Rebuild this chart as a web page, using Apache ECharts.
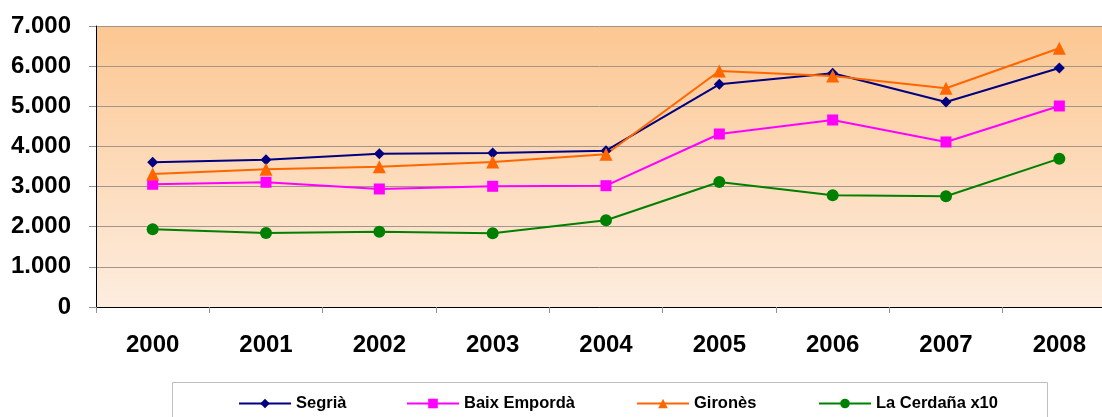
<!DOCTYPE html>
<html>
<head>
<meta charset="utf-8">
<script src="https://cdn.jsdelivr.net/npm/echarts@6/dist/echarts.min.js"></script>
<style>html,body{margin:0;padding:0;background:#fff;}#c{width:1102px;height:417px;}</style>
</head>
<body>
<div id="c"></div>
<script>
var categories = ['2000','2001','2002','2003','2004','2005','2006','2007','2008'];
var segria = [3605, 3670, 3819, 3837, 3894, 5548, 5822, 5107, 5954];
var baixEmporda = [3057, 3107, 2940, 3007, 3022, 4310, 4659, 4111, 5007];
var girones = [3313, 3430, 3496, 3612, 3804, 5879, 5755, 5448, 6445];
var laCerdana = [1936, 1844, 1876, 1836, 2160, 3114, 2783, 2758, 3695];
var seriesNames = ['Segrià', 'Baix Empordà', 'Gironès', 'La Cerdaña x10'];
var yMin = 0, yMax = 7000, yStep = 1000;

var FONT = '"Liberation Sans", Arial, sans-serif';
function fmt(v){
  var s = String(Math.round(v));
  return s.replace(/\B(?=(\d{3})+(?!\d))/g, '.');
}
var chart = echarts.init(document.getElementById('c'), null, {renderer:'canvas'});
function mkSeries(name, data, color, symbol, size){
  return {
    name: name, type: 'line', data: data,
    symbol: symbol, symbolSize: size,
    lineStyle: {color: color, width: 2},
    itemStyle: {color: color},
    emphasis: {disabled: true},
    animation: false, z: 3
  };
}
var legendPos = [233, 401, 631, 813];
var legends = seriesNames.map(function(n, i){
  return {
    data: [n], left: legendPos[i], top: 390,
    itemWidth: 52, itemHeight: 12, itemGap: 5,
    textStyle: {fontFamily: FONT, fontWeight: 'bold', fontSize: 16.5, color: '#000'},
    selectedMode: false
  };
});
chart.setOption({
  animation: false,
  graphic: [{
    type: 'rect', z: -1,
    shape: {x: 172.5, y: 382.5, width: 875, height: 60},
    style: {fill: '#fff', stroke: '#bfbfbf', lineWidth: 1}
  }],
  legend: legends,
  grid: {
    left: 96, top: 26, width: 1020, height: 281,
    outerBoundsMode: 'none', containLabel: false,
    show: true, borderWidth: 0,
    backgroundColor: new echarts.graphic.LinearGradient(0, 0, 0, 1, [
      {offset: 0, color: '#FCC792'},
      {offset: 1, color: '#FDEDDF'}
    ])
  },
  xAxis: {
    type: 'category', data: categories, boundaryGap: true,
    axisLine: {show: true, lineStyle: {color: '#000', width: 1}},
    axisTick: {show: true, length: 6, lineStyle: {color: '#909090'}},
    axisLabel: {fontFamily: FONT, fontWeight: 'bold', fontSize: 24, color: '#000', margin: 26}
  },
  yAxis: {
    type: 'value', min: yMin, max: yMax, interval: yStep,
    axisLine: {show: true, lineStyle: {color: '#000', width: 1}},
    axisTick: {show: true, length: 7, lineStyle: {color: '#909090'}},
    splitLine: {show: true, lineStyle: {color: '#A0968C', width: 1}},
    axisLabel: {fontFamily: FONT, fontWeight: 'bold', fontSize: 24, color: '#000', margin: 25, formatter: fmt}
  },
  series: [
    mkSeries(seriesNames[0], segria, '#000080', 'diamond', 11),
    mkSeries(seriesNames[1], baixEmporda, '#FF00FF', 'rect', 11),
    mkSeries(seriesNames[2], girones, '#FF6600', 'triangle', 13),
    mkSeries(seriesNames[3], laCerdana, '#008000', 'circle', 12)
  ]
});
</script>
</body>
</html>
